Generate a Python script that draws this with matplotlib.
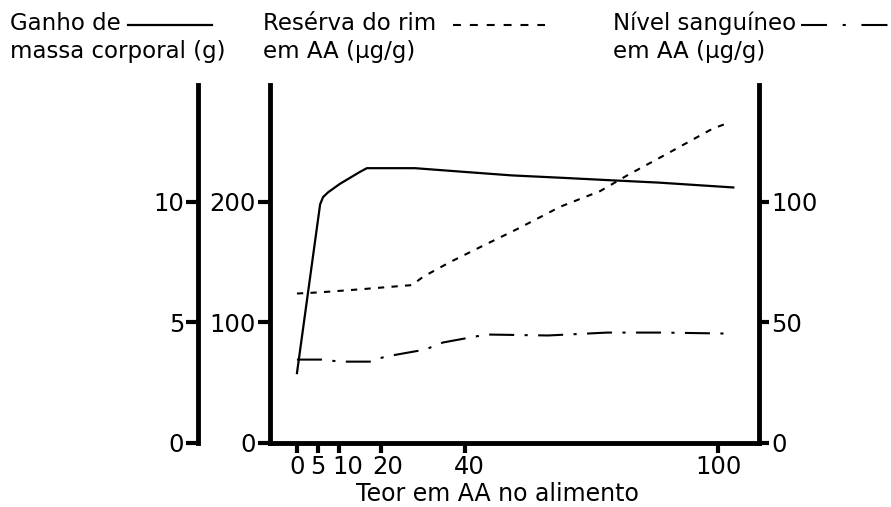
import matplotlib.pyplot as plt
import matplotlib.transforms as mtransforms
from matplotlib.lines import Line2D

# Teor em AA no alimento e respostas medidas
x_ganho = [0, 5.5, 6.2, 7.4, 10.2, 12.6, 15, 16.6, 28, 39.4, 51, 63, 74.3, 86, 97.4, 103.6]
ganho = [2.9, 9.9, 10.2, 10.4, 10.75, 11.0, 11.25, 11.4, 11.4, 11.25, 11.1, 11.0, 10.9, 10.8, 10.67, 10.6]

x_rim = [0, 5.5, 15, 27.3, 30, 36.3, 43.5, 52.3, 62.5, 72, 78.4, 87.9, 98.8, 102]
rim = [124, 125, 127.5, 131, 138, 150, 162.5, 177.5, 196, 209, 222, 240, 261, 265]

x_sangue = [0, 6, 10.2, 17.3, 20.9, 30.4, 34.7, 45, 59.6, 73.6, 86.7, 102]
sangue = [34.6, 34.6, 33.75, 33.75, 35.8, 38.75, 41.7, 45, 44.6, 45.8, 45.8, 45.4]

xticks = [0, 5, 10, 20, 40, 100]
ticks_g = [0, 5, 10]
ticks_rim = [0, 100, 200]
ticks_sangue = [0, 50, 100]

W, H = 891, 507
fig = plt.figure(figsize=(W / 100, H / 100), dpi=100)
ax = fig.add_axes([270 / W, 1 - 443 / H, (759 - 270) / W, (443 - 85) / H])

spine_w = 3.5
tick_kw = dict(direction='out', width=3, labelsize=17.5, colors='black')

# eixo da reserva do rim (ug/g)
ax.plot(x_rim, rim, color='black', lw=1.5, linestyle=(0, (3, 3.5)))
ax.set_xlim(-6.4, 109.7)
ax.set_ylim(0, 297)
ax.set_xticks(xticks)
ax.set_yticks(ticks_rim)
ax.tick_params(axis='x', length=7, pad=2, **tick_kw)
ax.tick_params(axis='y', length=9, pad=1, **tick_kw)
ax.spines['top'].set_visible(False)
ax.spines['right'].set_visible(False)
ax.spines['left'].set_linewidth(spine_w)
ax.spines['bottom'].set_linewidth(spine_w)
fig.text(497 / W, 1 - 501 / H, 'Teor em AA no alimento', fontsize=17,
         ha='center', va='baseline')

# afastar um pouco os rótulos 10, 20 e 40 para não se encostarem
shift_px = [0, 0, 9, 6, 4, 0]
for tick, dx in zip(ax.xaxis.get_major_ticks(), shift_px):
    off = mtransforms.ScaledTranslation(dx / 100, 0, fig.dpi_scale_trans)
    tick.label1.set_transform(tick.label1.get_transform() + off)

# eixo do ganho de massa corporal (g), mais à esquerda
ax_g = ax.twinx()
ax_g.plot(x_ganho, ganho, color='black', lw=1.6)
ax_g.set_ylim(0, 14.85)
ax_g.set_yticks(ticks_g)
ax_g.yaxis.tick_left()
ax_g.spines['left'].set_position(('axes', -0.1472))
ax_g.spines['left'].set_linewidth(spine_w)
for s in ['top', 'right', 'bottom']:
    ax_g.spines[s].set_visible(False)
ax_g.tick_params(axis='y', length=9, pad=1, **tick_kw)

# eixo do nível sanguíneo, à direita
ax_r = ax.twinx()
ax_r.plot(x_sangue, sangue, color='black', lw=1.5, linestyle=(0, (12, 5, 1.5, 5)))
ax_r.set_ylim(0, 148.5)
ax_r.set_yticks(ticks_sangue)
ax_r.spines['right'].set_linewidth(spine_w)
for s in ['top', 'left', 'bottom']:
    ax_r.spines[s].set_visible(False)
ax_r.tick_params(axis='y', length=7, pad=2, **tick_kw)

# cabeçalhos com amostra do traço
fs = 16.5
y1, y2 = 1 - 30 / H, 1 - 58 / H
fig.text(10 / W, y1, 'Ganho de', fontsize=fs, va='baseline')
fig.text(10 / W, y2, 'massa corporal (g)', fontsize=fs, va='baseline')
fig.text(263 / W, y1, 'Resérva do rim', fontsize=fs, va='baseline')
fig.text(263 / W, y2, 'em AA (\u03bcg/g)', fontsize=fs, va='baseline')
fig.text(613 / W, y1, 'Nível sanguíneo', fontsize=fs, va='baseline')
fig.text(613 / W, y2, 'em AA (\u03bcg/g)', fontsize=fs, va='baseline')

ly = 1 - 25 / H
fig.add_artist(Line2D([128 / W, 212 / W], [ly, ly], color='black', lw=1.6))
fig.add_artist(Line2D([453 / W, 545 / W], [ly, ly], color='black', lw=1.5,
                      linestyle=(0, (3.8, 4.3))))
fig.add_artist(Line2D([801 / W, 890 / W], [ly, ly], color='black', lw=1.5,
                      linestyle=(0, (12.5, 7.5, 1.5, 7.5))))

fig.savefig('out.png', dpi=100)
